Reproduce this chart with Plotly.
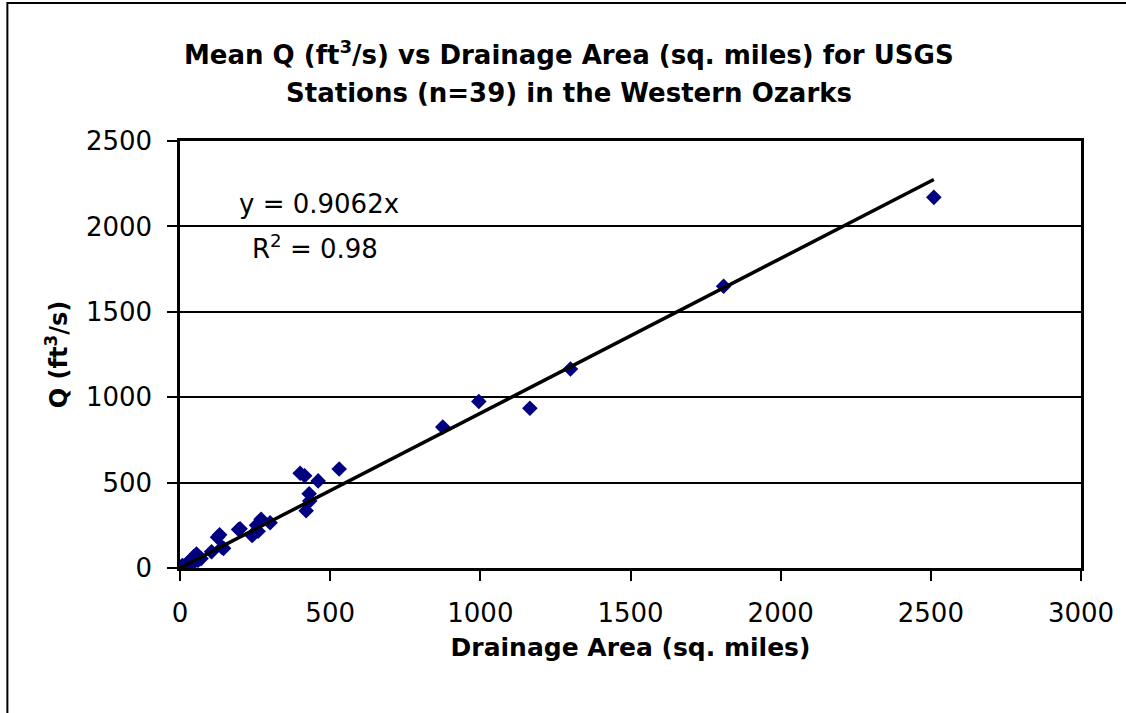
import plotly.graph_objects as go

area = [2510, 1810, 1300, 1165, 995, 875, 530, 460, 400, 415, 430, 432, 420,
        300, 270, 255, 245, 260, 240, 195, 200, 132, 125, 145, 140, 105, 55,
        45, 60, 70, 28, 20, 10, 5, 2, 15, 35, 8, 50]
flow = [2170, 1650, 1165, 935, 975, 825, 580, 510, 555, 540, 435, 392, 335,
        265, 285, 250, 200, 215, 190, 225, 230, 195, 180, 115, 120, 95, 82,
        65, 45, 55, 33, 20, 12, 5, 2, 8, 28, 15, 40]
slope = 0.9062
r2 = 0.98

x_ticks = [0, 500, 1000, 1500, 2000, 2500, 3000]
y_ticks = [0, 500, 1000, 1500, 2000, 2500]

title_lines = ["Mean Q (ft<sup>3</sup>/s) vs Drainage Area (sq. miles) for USGS",
               "Stations (n=39) in the Western Ozarks"]
x_title = "Drainage Area (sq. miles)"
y_title = "Q (ft<sup>3</sup>/s)"

FONT = "DejaVu Sans, Liberation Sans, sans-serif"

fig = go.Figure()
fig.add_trace(go.Scatter(
    x=area, y=flow, mode="markers",
    marker=dict(symbol="diamond", size=12, color="#000080",
                line=dict(width=0)),
    showlegend=False, hoverinfo="x+y"))

xmax = max(area)
fig.add_trace(go.Scatter(
    x=[0, xmax], y=[0, slope * xmax], mode="lines",
    line=dict(color="black", width=3.5), showlegend=False))

fig.update_layout(
    width=1126, height=713,
    paper_bgcolor="white", plot_bgcolor="white",
    margin=dict(l=180, r=43, t=141, b=145),
    font=dict(family=FONT, color="black", size=26),
    xaxis=dict(
        range=[0, 3000], tickvals=x_ticks, ticks="outside", ticklen=10,
        tickwidth=2, tickcolor="black", showgrid=False, zeroline=False,
        showline=True, linecolor="black", linewidth=2.5, mirror=True,
        tickfont=dict(size=26), ticklabelstandoff=10,
        title=dict(text=f"<b>{x_title}</b>",
                   font=dict(size=25), standoff=12)),
    yaxis=dict(
        range=[0, 2500], tickvals=y_ticks, ticks="outside", ticklen=10,
        tickwidth=2, tickcolor="black", showgrid=True, gridcolor="black",
        gridwidth=2, zeroline=False,
        showline=True, linecolor="black", linewidth=2.5, mirror=True,
        tickfont=dict(size=26), ticklabelstandoff=10,
        title=dict(text=f"<b>{y_title}</b>",
                   font=dict(size=24), standoff=12)),
    annotations=[
        dict(text=f"<b>{title_lines[0]}</b>", x=0.432, y=1.206,
             xref="paper", yref="paper", showarrow=False,
             xanchor="center", yanchor="middle", font=dict(size=26)),
        dict(text=f"<b>{title_lines[1]}</b>", x=0.432, y=1.112,
             xref="paper", yref="paper", showarrow=False,
             xanchor="center", yanchor="middle", font=dict(size=26)),
        dict(text=f"y = {slope}x", x=0.154, y=0.852, xref="paper", yref="paper",
             showarrow=False, xanchor="center", yanchor="middle",
             font=dict(size=26)),
        dict(text=f"R<sup>2</sup> = {r2}", x=0.1495, y=0.752, xref="paper",
             yref="paper", showarrow=False, xanchor="center",
             yanchor="middle", font=dict(size=26)),
    ],
    shapes=[dict(type="rect", xref="paper", yref="paper",
                 x0=-0.1916, y0=-0.5, x1=1.2, y1=1.323,
                 line=dict(color="black", width=2), layer="below")],
)

fig.write_html("out.html",
               config={"displayModeBar": False},
               post_script="document.body.style.margin='0';"
                           "document.body.style.overflow='hidden';")
